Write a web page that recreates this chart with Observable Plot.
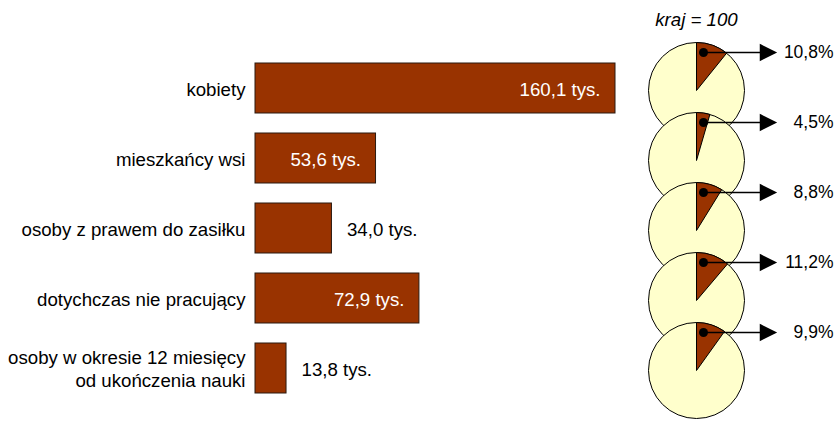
<!DOCTYPE html>
<html>
<head>
<meta charset="utf-8">
<script src="https://cdn.jsdelivr.net/npm/d3@7"></script>
<script src="https://cdn.jsdelivr.net/npm/@observablehq/plot@0.6"></script>
<style>
  body { margin: 0; background: white; }
</style>
</head>
<body>
<div id="chart"></div>
<script>
const categories = [
  "kobiety",
  "mieszkańcy wsi",
  "osoby z prawem do zasiłku",
  "dotychczas nie pracujący",
  "osoby w okresie 12 miesięcy\nod ukończenia nauki"
];
const values = [160.1, 53.6, 34.0, 72.9, 13.8];      // tys.
const shares = [10.8, 4.5, 8.8, 11.2, 9.9];          // % (kraj = 100)
const pieTitle = "kraj = 100";

const rows = categories.map((cat, i) => ({cat, value: values[i], share: shares[i]}));
const fmt1 = v => v.toFixed(1).replace(".", ",");

const FONT = "'Liberation Sans', Arial, sans-serif";
const FS = 18.67;
const BROWN = "#993300";
const CREAM = "#FFFFCC";

// pie geometry (styling, relative to the right edge of the bar frame)
const PIE_DX = 81, PIE_DY = 2, PIE_R = 48;

function wedge(p) {
  return {
    draw(ctx, size) {
      const r = Math.sqrt(size / Math.PI);
      const a0 = -Math.PI / 2;
      ctx.moveTo(0, 0);
      ctx.lineTo(0, -r);
      ctx.arc(0, 0, r, a0, a0 + 2 * Math.PI * p / 100);
      ctx.closePath();
    }
  };
}
const arrowSymbol = {
  draw(ctx) {
    ctx.moveTo(0, 0);
    ctx.lineTo(57, 0);
    ctx.moveTo(57, -7.5);
    ctx.lineTo(72, 0);
    ctx.lineTo(57, 7.5);
    ctx.closePath();
  }
};

const inside = d => d.value > 40;

const chart = Plot.plot({
  width: 837,
  height: 422,
  marginLeft: 255,
  marginRight: 222,
  marginTop: 42,
  marginBottom: 7,
  x: {domain: [0, d3.max(values)], axis: null},
  y: {domain: categories, axis: null, padding: 0.28},
  style: {fontFamily: FONT, background: "white", overflow: "visible"},
  marks: [
    Plot.barX(rows, {y: "cat", x: "value", fill: BROWN, stroke: "#2a1a10", strokeWidth: 1}),
    // category labels
    Plot.text(rows, {y: "cat", text: "cat", frameAnchor: "left", textAnchor: "end", dx: -10,
      fontSize: FS, fill: "#000", lineHeight: 1.2}),
    // value labels inside
    Plot.text(rows.filter(inside), {y: "cat", x: "value", text: d => fmt1(d.value) + " tys.",
      textAnchor: "end", dx: -15, dy: 2, fontSize: FS, fill: "white"}),
    // value labels outside
    Plot.text(rows.filter(d => !inside(d)), {y: "cat", x: "value", text: d => fmt1(d.value) + " tys.",
      textAnchor: "start", dx: 15, dy: 2, fontSize: FS, fill: "black"}),
    // pies
    Plot.dot(rows, {y: "cat", frameAnchor: "right", dx: PIE_DX, dy: PIE_DY, r: PIE_R,
      fill: CREAM, stroke: "black", strokeWidth: 1}),
    ...rows.map(d => Plot.dot([d], {y: "cat", frameAnchor: "right", dx: PIE_DX, dy: PIE_DY, r: PIE_R,
      symbol: wedge(d.share), fill: BROWN, stroke: "black", strokeWidth: 1})),
    // arrows
    Plot.dot(rows, {y: "cat", frameAnchor: "right", dx: PIE_DX + 7, dy: PIE_DY - 38, r: 5,
      symbol: arrowSymbol, fill: "black", stroke: "black", strokeWidth: 1.5}),
    Plot.dot(rows, {y: "cat", frameAnchor: "right", dx: PIE_DX + 7, dy: PIE_DY - 38, r: 4.5,
      fill: "black", stroke: "none"}),
    Plot.text(rows, {y: "cat", text: d => fmt1(d.share) + "%", frameAnchor: "right",
      dx: 218, dy: PIE_DY - 38, textAnchor: "end", fontSize: 17.5, fill: "black"}),
    // pie title
    Plot.text([pieTitle], {text: d => d, frameAnchor: "top-right", dx: PIE_DX, dy: -22,
      lineAnchor: "middle", textAnchor: "middle", fontSize: FS, fontStyle: "italic", fill: "black"})
  ]
});
document.getElementById("chart").append(chart);
</script>
</body>
</html>
